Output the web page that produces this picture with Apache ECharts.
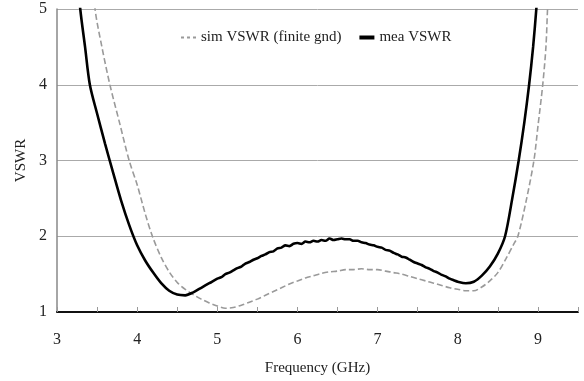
<!DOCTYPE html>
<html>
<head>
<meta charset="utf-8">
<script src="https://cdn.jsdelivr.net/npm/echarts@6/dist/echarts.min.js"></script>
<style>
  html, body { margin: 0; padding: 0; background: #fff; }
  #chart { width: 584px; height: 381px; }
</style>
</head>
<body>
<div id="chart"></div>
<script>
// simulated VSWR (finite ground)
const simFreq = [3.4, 3.475, 3.56, 3.66, 3.78, 3.9, 4.0, 4.1, 4.19, 4.3, 4.4, 4.5, 4.6, 4.7, 4.8, 4.9,
  5.0, 5.1, 5.2, 5.3, 5.4, 5.5, 5.6, 5.7, 5.8, 5.9, 6.0, 6.1, 6.2, 6.3, 6.4, 6.5, 6.6, 6.7, 6.8, 6.9,
  7.0, 7.1, 7.2, 7.3, 7.4, 7.5, 7.6, 7.7, 7.8, 7.9, 8.0, 8.1, 8.2, 8.3, 8.4, 8.5, 8.6, 8.7, 8.75,
  8.85, 8.95, 9.0, 9.06, 9.1, 9.12, 9.15]
const simVswr = [6.0, 5.0, 4.5, 4.0, 3.5, 3.0, 2.68, 2.3, 2.0, 1.72, 1.53, 1.39, 1.30, 1.23, 1.17, 1.12,
  1.08, 1.05, 1.06, 1.09, 1.13, 1.17, 1.22, 1.27, 1.32, 1.37, 1.41, 1.45, 1.48, 1.51, 1.53, 1.54, 1.56, 1.56, 1.57, 1.56,
  1.56, 1.54, 1.52, 1.50, 1.47, 1.44, 1.41, 1.38, 1.35, 1.32, 1.30, 1.28, 1.28, 1.33, 1.41, 1.52, 1.70, 1.90, 2.0,
  2.45, 3.0, 3.45, 4.0, 4.5, 5.0, 5.6]

// measured VSWR (a little noisy in the middle band)
const meaFreq = [3.2, 3.29, 3.35, 3.41, 3.5, 3.6, 3.7, 3.8, 3.9, 4.0, 4.1, 4.2, 4.3, 4.4, 4.5, 4.6, 4.7, 4.8, 4.9,
  5.0, 5.05, 5.1, 5.15, 5.2, 5.25, 5.3, 5.35, 5.4, 5.45, 5.5, 5.55, 5.6, 5.65, 5.7, 5.75, 5.8, 5.85, 5.9, 5.95,
  6.0, 6.05, 6.1, 6.15, 6.2, 6.25, 6.3, 6.35, 6.4, 6.45, 6.5, 6.55, 6.6, 6.65, 6.7, 6.75, 6.8, 6.85, 6.9, 6.95,
  7.0, 7.05, 7.1, 7.15, 7.2, 7.25, 7.3, 7.35, 7.4, 7.45, 7.5, 7.55, 7.6, 7.65, 7.7, 7.75, 7.8, 7.85, 7.9, 7.95,
  8.0, 8.1, 8.2, 8.3, 8.4, 8.5, 8.59, 8.68, 8.76, 8.83, 8.89, 8.94, 8.98, 9.02]
const meaVswr = [6.0, 5.0, 4.5, 4.0, 3.62, 3.22, 2.84, 2.47, 2.15, 1.88, 1.68, 1.52, 1.38, 1.28, 1.23, 1.22, 1.26, 1.32, 1.38,
  1.44, 1.46, 1.50, 1.52, 1.55, 1.58, 1.60, 1.64, 1.66, 1.69, 1.71, 1.74, 1.76, 1.79, 1.80, 1.84, 1.85, 1.88, 1.87, 1.90,
  1.91, 1.90, 1.93, 1.92, 1.94, 1.93, 1.95, 1.94, 1.97, 1.95, 1.96, 1.97, 1.96, 1.96, 1.94, 1.94, 1.92, 1.91, 1.89, 1.88,
  1.86, 1.85, 1.82, 1.81, 1.78, 1.76, 1.73, 1.72, 1.69, 1.66, 1.64, 1.62, 1.59, 1.57, 1.54, 1.52, 1.49, 1.47, 1.44, 1.42,
  1.40, 1.38, 1.40, 1.48, 1.60, 1.77, 2.0, 2.5, 3.0, 3.5, 4.0, 4.5, 5.0, 5.6]

const xTicks = [3, 4, 5, 6, 7, 8, 9]

const serif = "'Liberation Serif', 'DejaVu Serif', serif"
const pairs = (xs, ys) => xs.map((x, i) => [x, ys[i]])

const chart = echarts.init(document.getElementById("chart"), null, { renderer: "canvas" })

chart.setOption({
  animation: false,
  backgroundColor: "#fff",
  textStyle: { fontFamily: serif },
  grid: { left: 57, right: 6, top: 9, bottom: 64 },
  legend: {
    top: 25,
    left: 176,
    itemWidth: 15,
    itemHeight: 4,
    itemGap: 18,
    textStyle: { fontFamily: serif, fontSize: 15, color: "#222" },
    data: [
      { name: "sim VSWR (finite gnd)", icon: "path://M0,0h3v2h-3z M6,0h3v2h-3z M12,0h3v2h-3z" },
      { name: "mea VSWR", icon: "rect" }
    ]
  },
  xAxis: {
    type: "value",
    min: 3,
    max: 9.5,
    interval: 0.5,
    name: "Frequency (GHz)",
    nameLocation: "middle",
    nameGap: 49,
    nameTextStyle: { fontFamily: serif, fontSize: 15, color: "#222" },
    axisLine: { lineStyle: { color: "#111", width: 2 } },
    axisTick: { inside: true, length: 5, lineStyle: { color: "#999" } },
    axisLabel: {
      margin: 20,
      fontFamily: serif,
      fontSize: 16,
      color: "#222",
      formatter: (v) => (xTicks.includes(v) ? String(v) : "")
    },
    splitLine: { show: false }
  },
  yAxis: {
    type: "value",
    min: 1,
    max: 5,
    interval: 1,
    name: "VSWR",
    nameLocation: "middle",
    nameGap: 20,
    nameTextStyle: { fontFamily: serif, fontSize: 15, color: "#222" },
    axisLine: { show: true, lineStyle: { color: "#888", width: 1.5 } },
    axisTick: { show: false },
    axisLabel: { margin: 10, fontFamily: serif, fontSize: 16, color: "#222" },
    splitLine: { lineStyle: { color: "#aaa", width: 1 } }
  },
  series: [
    {
      name: "sim VSWR (finite gnd)",
      type: "line",
      data: pairs(simFreq, simVswr),
      smooth: 0.3,
      symbol: "none",
      clip: true,
      lineStyle: { color: "#9a9a9a", width: 1.6, type: [6, 3] },
      itemStyle: { color: "#9a9a9a" }
    },
    {
      name: "mea VSWR",
      type: "line",
      data: pairs(meaFreq, meaVswr),
      smooth: 0.3,
      symbol: "none",
      clip: true,
      lineStyle: { color: "#000", width: 2.6 },
      itemStyle: { color: "#000" }
    }
  ]
})
</script>
</body>
</html>
